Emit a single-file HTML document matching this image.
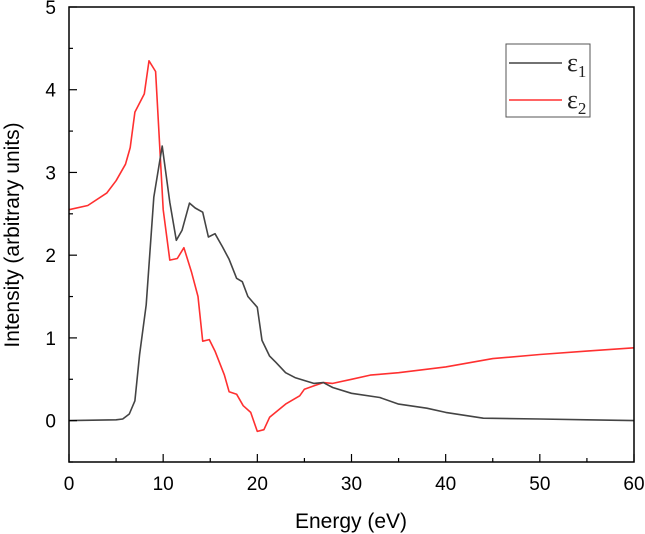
<!DOCTYPE html>
<html><head><meta charset="utf-8"><style>
html,body{margin:0;padding:0;background:#fff;width:645px;height:534px;overflow:hidden}
svg{display:block;font-family:"Liberation Sans",sans-serif}
</style></head><body>
<svg id="chart" width="645" height="534" viewBox="0 0 645 534" xmlns="http://www.w3.org/2000/svg">
<g id="plot"></g>
<text x="351" y="528" font-size="21" text-anchor="middle" fill="#000">Energy (eV)</text>
<text transform="translate(19,235) rotate(-90)" font-size="21" text-anchor="middle" fill="#000">Intensity (arbitrary units)</text>
<g>
<rect x="506" y="44" width="84" height="73" fill="#fff" stroke="#555" stroke-width="1"/>
<line x1="509" y1="63" x2="562" y2="63" stroke="#444" stroke-width="1.5"/>
<text x="567" y="71" font-family="Liberation Serif,serif" font-size="26" fill="#222">ε<tspan font-size="17" dy="6">1</tspan></text>
<line x1="509" y1="100" x2="562" y2="100" stroke="#ff3030" stroke-width="1.5"/>
<text x="567" y="108" font-family="Liberation Serif,serif" font-size="26" fill="#222">ε<tspan font-size="17" dy="6">2</tspan></text>
</g>
</svg>
<script>
const eps1X=[0,5,5.7,6.4,7,7.5,8.2,9,9.9,10.7,11.4,12,12.8,13.4,14.2,14.8,15.5,16.3,17,17.8,18.4,19,20,20.5,21.3,22,23,24,26,27,28,30,33,35,38,40,44,50,55,60];
const eps1Y=[0,0.01,0.02,0.08,0.24,0.8,1.4,2.7,3.32,2.64,2.18,2.3,2.63,2.57,2.52,2.22,2.26,2.1,1.95,1.72,1.68,1.5,1.37,0.97,0.78,0.7,0.58,0.52,0.45,0.46,0.4,0.33,0.28,0.2,0.15,0.1,0.03,0.02,0.01,0.0];
const eps2X=[0,2,4,5,6,6.5,7,8,8.5,9.2,10,10.7,11.5,12.2,13,13.7,14.2,14.9,15.5,16.5,17,17.8,18.5,19.3,20,20.7,21.3,23,24.5,25,26,27,28,30,32,33,35,40,45,50,55,60];
const eps2Y=[2.55,2.6,2.75,2.9,3.1,3.3,3.73,3.95,4.35,4.22,2.55,1.94,1.96,2.09,1.8,1.5,0.96,0.98,0.84,0.55,0.35,0.32,0.18,0.1,-0.13,-0.11,0.04,0.2,0.3,0.38,0.42,0.46,0.45,0.5,0.55,0.56,0.58,0.65,0.75,0.8,0.84,0.88];
const xTicks=[0,10,20,30,40,50,60];
const yTicks=[0,1,2,3,4,5];
const L=69,R=634,T=7,B=462,xMin=0,xMax=60,yMin=-0.5,yMax=5;
const sx=v=>L+(v-xMin)/(xMax-xMin)*(R-L);
const sy=v=>B-(v-yMin)/(yMax-yMin)*(B-T);
const NS="http://www.w3.org/2000/svg";
const g=document.getElementById('plot');
function mk(tag,attrs){const e=document.createElementNS(NS,tag);for(const k in attrs)e.setAttribute(k,attrs[k]);g.appendChild(e);return e;}
function path(xs,ys,color,name){
  const d=xs.map((x,i)=>(i?'L':'M')+sx(x).toFixed(1)+','+sy(ys[i]).toFixed(1)).join('');
  const p=mk('path',{d:d,fill:'none',stroke:color,'stroke-width':1.6,'stroke-linejoin':'round'});
  
  
}
path(eps2X,eps2Y,'#ff3030','eps2-line');
path(eps1X,eps1Y,'#444','eps1-line');
const fr=mk('rect',{x:L,y:T,width:R-L,height:B-T,fill:'none',stroke:'#000','stroke-width':1.5});


for(let v=0;v<=60;v+=5){
  const major=v%10===0;const x=sx(v);
  const t=mk('line',{x1:x,y1:B,x2:x,y2:B-(major?8:4),stroke:'#000','stroke-width':1.2});
  
  
}
xTicks.forEach(v=>{
  const t=mk('text',{x:sx(v),y:B+28,'font-size':19,'text-anchor':'middle',fill:'#000'});
  t.textContent=v;
  
  
});
for(let v=-0.5;v<=5.001;v+=0.5){
  const major=Math.abs(v-Math.round(v))<1e-6;const y=sy(v);
  const t=mk('line',{x1:L,y1:y,x2:L+(major?8:4),y2:y,stroke:'#000','stroke-width':1.2});
  
  
}
yTicks.forEach(v=>{
  const t=mk('text',{x:L-13,y:sy(v)+7,'font-size':19,'text-anchor':'end',fill:'#000'});
  t.textContent=v;
  
  
});
</script>
</body></html>
